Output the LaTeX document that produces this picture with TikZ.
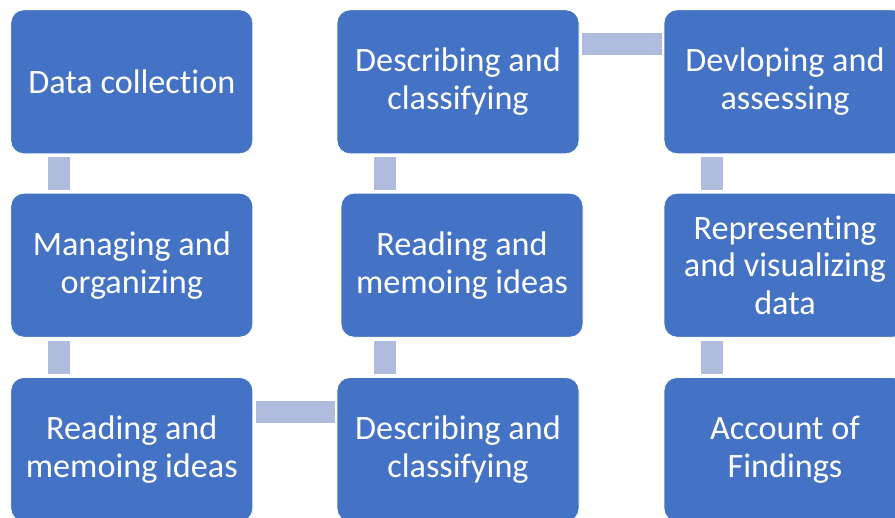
\documentclass[tikz,border=0pt]{standalone}
\usepackage{fontspec}
\setmainfont{Carlito}[Ligatures={NoCommon,NoContextual}]
\usetikzlibrary{calc}
\definecolor{boxblue}{RGB}{68,114,196}
\definecolor{linkblue}{RGB}{176,188,222}
\begin{document}
\begin{tikzpicture}[x=1pt,y=-1pt,
  stepbox/.style={rectangle, rounded corners=13pt, fill=boxblue, draw=white,
    line width=0.8pt, minimum width=242pt, minimum height=144pt,
    text=white, align=center, inner sep=0pt,
    font=\fontsize{34.2}{37.8}\selectfont},
  link/.style={draw=linkblue, line width=22.5pt}]
\useasboundingbox (0,0) rectangle (895,518);
\clip (0,0) rectangle (895,518);
% first column
\node[stepbox] (dc)  at (131.8,81.8)  {Data collection};
\node[stepbox] (mo)  at (131.8,265.2) {Managing and\\organizing};
\node[stepbox] (rm1) at (131.8,449.5) {Reading and\\memoing ideas};
% second column
\node[stepbox] (dc2) at (458,449.5)  {Describing and\\classifying};
\node[stepbox] (rm2) at (462,265.2)  {Reading and\\memoing ideas};
\node[stepbox] (dc1) at (458,81.8)   {Describing and\\classifying};
% third column
\node[stepbox] (da)  at (785,81.8)   {Devloping and\\assessing};
\node[stepbox] (rv)  at (785,265.2)  {Representing\\and visualizing\\data};
\node[stepbox] (af)  at (785,449.5)  {Account of\\Findings};
% vertical links
\foreach \a/\b in {dc/mo, mo/rm1, dc1/rm2, da/rv, rv/af}{
  \coordinate (p) at ($(\a.south west)!0.2!(\a.south east)$);
  \draw[link, shorten <=3pt, shorten >=3pt] (p) -- (p |- \b.north);
}
\coordinate (q) at ($(dc2.north west)!0.2!(dc2.north east)$);
\draw[link, shorten <=3pt, shorten >=3pt] (q) -- (q |- rm2.south);
% horizontal links
\foreach \a/\b in {rm1/dc2, dc1/da}{
  \coordinate (h) at ($(\a.north east)!0.24!(\a.south east)$);
  \draw[link, shorten <=3pt, shorten >=2pt] (h) -- (h -| \b.west);
}
\end{tikzpicture}
\end{document}
